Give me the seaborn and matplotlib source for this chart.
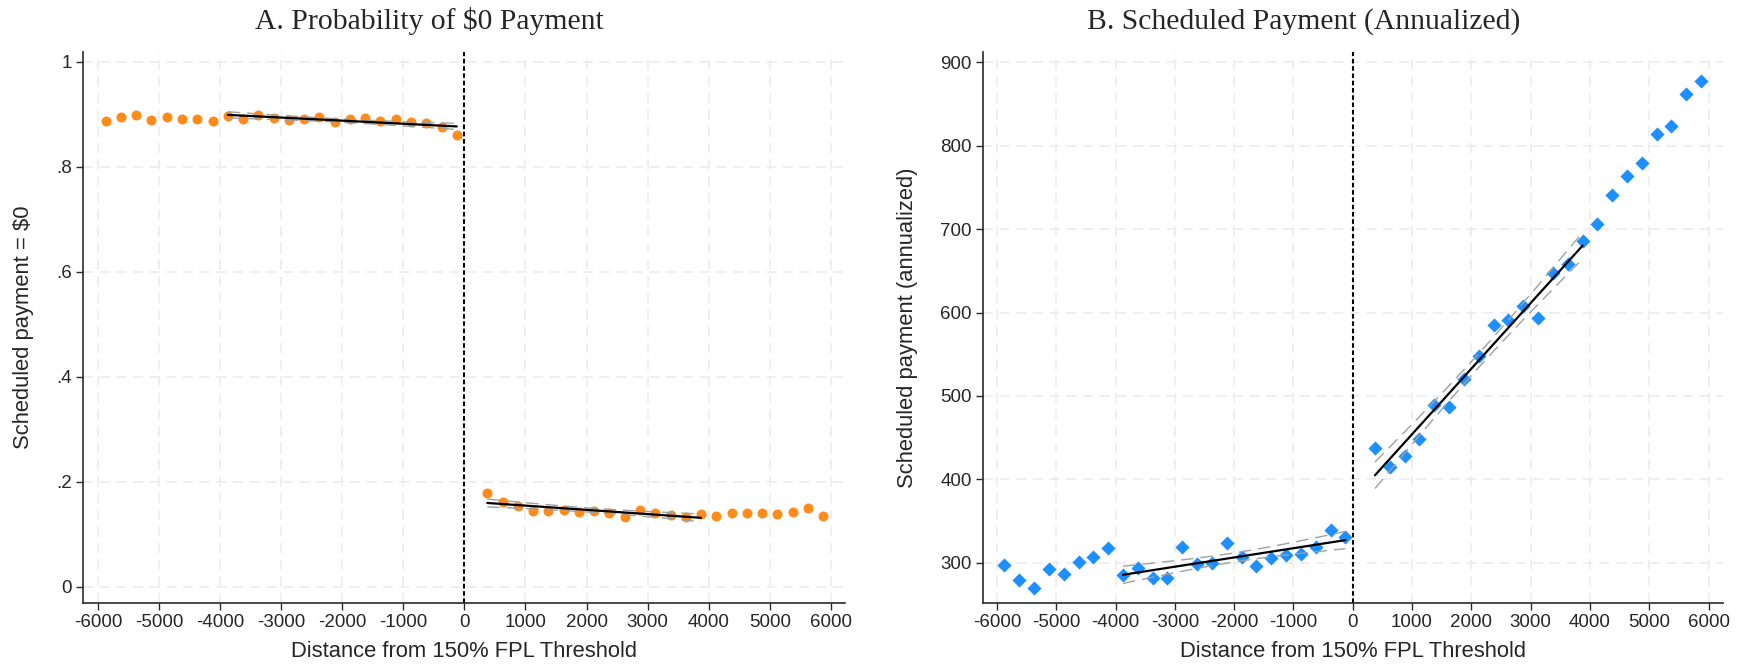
import numpy as np
import pandas as pd
import matplotlib
matplotlib.use("Agg")
import matplotlib.pyplot as plt
import seaborn as sns

# ---- binned means (250-unit bins around the 150% FPL threshold) ----
x_left = [-5875 + 250 * k for k in range(24)]
x_right = [375 + 250 * k for k in range(23)]

zero_pay_left = [0.888, 0.895, 0.898, 0.889, 0.895, 0.891, 0.890, 0.888,
                 0.897, 0.891, 0.898, 0.893, 0.889, 0.891, 0.895, 0.885,
                 0.890, 0.893, 0.888, 0.890, 0.886, 0.883, 0.875, 0.860]
zero_pay_right = [0.1785, 0.1613, 0.1531, 0.1448, 0.1436, 0.1455, 0.1423,
                  0.1436, 0.1410, 0.1322, 0.1461, 0.1410, 0.1366, 0.1333,
                  0.1385, 0.1347, 0.1410, 0.1398, 0.1398, 0.1385, 0.1417,
                  0.1493, 0.1347]

sched_left = [297.2, 279.3, 269.3, 292.1, 286.1, 301.2, 307.2, 317.6,
              284.9, 293.3, 282.0, 282.0, 319.2, 298.8, 300.0, 323.6,
              306.8, 296.4, 306.0, 309.2, 310.4, 318.8, 338.8, 331.2]
sched_right = [437.5, 414.4, 427.9, 448.0, 488.7, 486.7, 520.3, 547.8,
               584.6, 591.0, 607.4, 593.0, 647.0, 657.8, 686.1, 706.5,
               740.9, 763.7, 779.6, 814.0, 823.2, 862.0, 877.2]

x_ticks = list(range(-6000, 6001, 1000))
a_yticks = [0, 0.2, 0.4, 0.6, 0.8, 1.0]
a_yticklabels = ["0", ".2", ".4", ".6", ".8", "1"]
b_yticks = list(range(300, 901, 100))

BANDWIDTH = 4000

sns.set_theme(style="white")
plt.rcParams["font.family"] = ["Liberation Sans", "DejaVu Sans"]

fig = plt.figure(figsize=(17.4, 6.65), dpi=100)
ax_a = fig.add_axes([0.0479, 0.0932, 0.438, 0.8286])
ax_b = fig.add_axes([0.5648, 0.0932, 0.4253, 0.8286])


def linear_fit(x, y):
    """OLS line with 95% confidence bounds for the fitted mean."""
    x = np.asarray(x, float)
    y = np.asarray(y, float)
    n = len(x)
    slope, icpt = np.polyfit(x, y, 1)
    yhat = icpt + slope * x
    s = np.sqrt(np.sum((y - yhat) ** 2) / (n - 2))
    sxx = np.sum((x - x.mean()) ** 2)
    se = s * np.sqrt(1.0 / n + (x - x.mean()) ** 2 / sxx)
    return x, yhat, yhat - 1.96 * se, yhat + 1.96 * se


def draw_panel(ax, xl, yl, xr, yr, color, marker, size):
    df = pd.DataFrame({
        "x": list(xl) + list(xr),
        "y": list(yl) + list(yr),
    })
    sns.scatterplot(data=df, x="x", y="y", ax=ax, color=color, marker=marker,
                    s=size, linewidth=0, zorder=3)
    for xs, ys in ((xl, yl), (xr, yr)):
        xs = np.asarray(xs)
        ys = np.asarray(ys)
        keep = np.abs(xs) <= BANDWIDTH
        fx, fy, lo, hi = linear_fit(xs[keep], ys[keep])
        for band in (lo, hi):
            ax.plot(fx, band, color="#a0a0a0", lw=1.0, ls=(0, (9, 5)), zorder=4)
        ax.plot(fx, fy, color="black", lw=1.6, zorder=5)
    ax.axvline(0, color="black", lw=1.5, ls=(0, (2.2, 1.3)), zorder=2)


def style_axes(ax, ylabel, yticks, yticklabels, ylim):
    ax.set_xlim(-6240, 6240)
    ax.set_ylim(*ylim)
    ax.set_xticks(x_ticks)
    ax.set_xticklabels([str(t) for t in x_ticks])
    ax.set_yticks(yticks)
    ax.set_yticklabels(yticklabels)
    ax.grid(True, color="#ececec", lw=1.2, ls=(0, (6, 4)))
    ax.set_axisbelow(True)
    for side in ("top", "right"):
        ax.spines[side].set_visible(False)
    for side in ("left", "bottom"):
        ax.spines[side].set_color("#2a2a2a")
        ax.spines[side].set_linewidth(1.2)
    ax.tick_params(axis="both", direction="out", length=5, width=1.0,
                   color="#2a2a2a", labelsize=13.5, pad=3,
                   bottom=True, left=True)
    ax.set_xlabel("Distance from 150% FPL Threshold", fontsize=15.8, labelpad=7)
    ax.set_ylabel(ylabel, fontsize=15.8, labelpad=16)


draw_panel(ax_a, x_left, zero_pay_left, x_right, zero_pay_right,
           "#ff8c1a", "o", 52)
style_axes(ax_a, "Scheduled payment = $0",
           a_yticks, a_yticklabels, (-0.031, 1.0185))

draw_panel(ax_b, x_left, sched_left, x_right, sched_right,
           "#1e8fff", "D", 52)
style_axes(ax_b, "Scheduled payment (annualized)", b_yticks,
           [str(t) for t in b_yticks], (251.7, 912.4))

title_font = {"family": ["Liberation Serif", "DejaVu Serif"], "size": 21.3}
fig.text(0.247, 0.968, "A. Probability of \\$0 Payment", ha="center", va="center",
         fontdict=title_font)
fig.text(0.749, 0.968, "B. Scheduled Payment (Annualized)", ha="center",
         va="center", fontdict=title_font)

fig.savefig("out.png", dpi=100, facecolor="white")
